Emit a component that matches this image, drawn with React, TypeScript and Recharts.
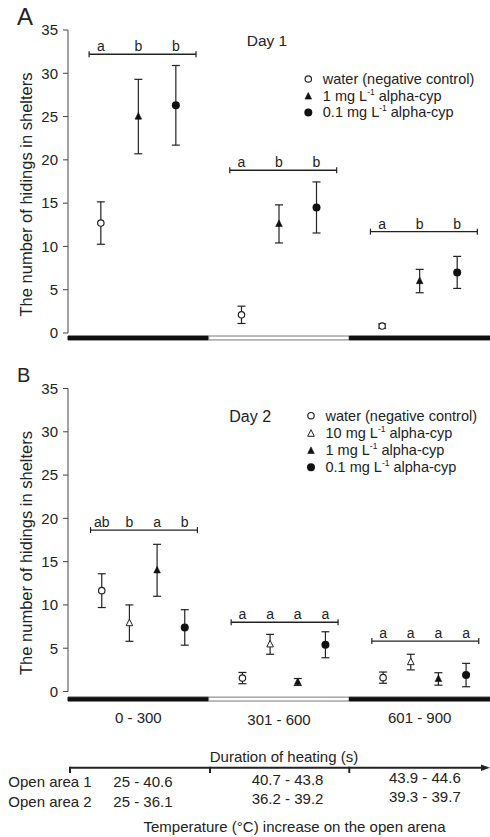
import React from "react";
import {
  ErrorBar,
  ReferenceArea,
  ReferenceLine,
  Scatter,
  ScatterChart,
  XAxis,
  YAxis,
} from "recharts";

const FONT = "'Liberation Sans', Arial, sans-serif";
const INK = "#222";

const GROUPS = ["0 - 300", "301 - 600", "601 - 900"];
const GROUP_SPAN = 300;
const Y_TICKS = [0, 5, 10, 15, 20, 25, 30, 35];

// Day 1: mean and SE per heating period
const d1Water = [12.7, 2.1, 0.8];
const d1WaterSe = [2.45, 1.0, 0.25];
const d1Mg1 = [25.0, 12.6, 6.0];
const d1Mg1Se = [4.3, 2.2, 1.35];
const d1Mg01 = [26.3, 14.5, 7.0];
const d1Mg01Se = [4.6, 2.95, 1.85];
const d1Letters = [
  ["a", "b", "b"],
  ["a", "b", "b"],
  ["a", "b", "b"],
];
const d1Brackets = [32.2, 18.8, 11.7];

// Day 2
const d2Water = [11.65, 1.55, 1.6];
const d2WaterSe = [1.95, 0.65, 0.65];
const d2Mg10 = [7.9, 5.45, 3.4];
const d2Mg10Se = [2.1, 1.15, 0.9];
const d2Mg1 = [14.0, 1.1, 1.45];
const d2Mg1Se = [3.0, 0.4, 0.72];
const d2Mg01 = [7.4, 5.4, 1.9];
const d2Mg01Se = [2.05, 1.5, 1.35];
const d2Letters = [
  ["ab", "b", "a", "b"],
  ["a", "a", "a", "a"],
  ["a", "a", "a", "a"],
];
const d2Brackets = [18.65, 8.0, 5.83];

// temperature table under the chart
const area1Temps = ["25 - 40.6", "40.7 - 43.8", "43.9 - 44.6"];
const area2Temps = ["25 - 36.1", "36.2 - 39.2", "39.3 - 39.7"];

// layout: where each treatment sits inside a 300 s period
const D1_OFFSETS = [70, 150, 230];
const D2_OFFSETS = [72, 131, 190, 249];
const D1_BRACKET = [45, 273];
const D2_BRACKET = [48, 276];

type Kind = "openCircle" | "openTriangle" | "triangle" | "circle";

function Marker({ kind, cx, cy }: { kind: Kind; cx: number; cy: number }) {
  if (kind === "openCircle")
    return <circle cx={cx} cy={cy} r={3.2} fill="#fff" stroke={INK} strokeWidth={1.2} />;
  if (kind === "circle") return <circle cx={cx} cy={cy} r={4} fill="#111" />;
  const pts = `${cx},${cy - 4} ${cx - 3.3},${cy + 2.6} ${cx + 3.3},${cy + 2.6}`;
  return kind === "triangle" ? (
    <polygon points={pts} fill="#111" stroke="#111" strokeWidth={0.6} />
  ) : (
    <polygon points={pts} fill="#fff" stroke={INK} strokeWidth={1} />
  );
}

type Series = { kind: Kind; mean: number[]; se: number[] };

const day1: Series[] = [
  { kind: "openCircle", mean: d1Water, se: d1WaterSe },
  { kind: "triangle", mean: d1Mg1, se: d1Mg1Se },
  { kind: "circle", mean: d1Mg01, se: d1Mg01Se },
];

const day2: Series[] = [
  { kind: "openCircle", mean: d2Water, se: d2WaterSe },
  { kind: "openTriangle", mean: d2Mg10, se: d2Mg10Se },
  { kind: "triangle", mean: d2Mg1, se: d2Mg1Se },
  { kind: "circle", mean: d2Mg01, se: d2Mg01Se },
];

const bracketShape = (p: any) => (
  <g>
    <line x1={p.x1} y1={p.y1} x2={p.x2} y2={p.y2} stroke={INK} strokeWidth={1.3} />
    <line x1={p.x1} y1={p.y1 - 3} x2={p.x1} y2={p.y1 + 3} stroke={INK} strokeWidth={1.2} />
    <line x1={p.x2} y1={p.y2 - 3} x2={p.x2} y2={p.y2 + 3} stroke={INK} strokeWidth={1.2} />
  </g>
);

const yLabel = (props: any) => {
  const vb = props.viewBox;
  const x = vb.x + 23.5;
  const y = vb.y + vb.height / 2 + 13;
  return (
    <text
      x={x}
      y={y}
      transform={`rotate(-90 ${x} ${y})`}
      textAnchor="middle"
      fontSize={16.5}
      fill={INK}
      fontFamily={FONT}
    >
      The number of hidings in shelters
    </text>
  );
};

const xLabel = (props: any) => {
  const vb = props.viewBox;
  return (
    <text
      x={vb.x + vb.width / 2 + 5}
      y={vb.y + 70.5}
      textAnchor="middle"
      fontSize={15}
      fill={INK}
      fontFamily={FONT}
    >
      Duration of heating (s)
    </text>
  );
};

// the middle period label sits a little lower in the original
const tickDy = [0, 2.6, 0];
const groupTick = (p: any) => {
  const i = Math.round((p.payload.value - 150) / GROUP_SPAN);
  return (
    <text
      x={p.x}
      y={p.y + 11 + tickDy[i]}
      textAnchor="middle"
      fontSize={15}
      fill={INK}
      fontFamily={FONT}
    >
      {GROUPS[i]}
    </text>
  );
};

function Panel({
  series,
  offsets,
  letters,
  brackets,
  span,
  height,
  top,
  bottom,
  barTop,
  showX,
}: {
  series: Series[];
  offsets: number[];
  letters: string[][];
  brackets: number[];
  span: number[];
  height: number;
  top: number;
  bottom: number;
  barTop: number;
  showX: boolean;
}) {
  const letterData = GROUPS.flatMap((_, g) =>
    letters[g].map((l, t) => ({ x: g * GROUP_SPAN + offsets[t], y: brackets[g], label: l }))
  );
  return (
    <ScatterChart width={490} height={height} margin={{ top, right: 0, bottom, left: 8 }}>
      <XAxis
        type="number"
        dataKey="x"
        domain={[0, 900]}
        hide={!showX}
        ticks={[150, 450, 750]}
        axisLine={false}
        tickLine={false}
        tickMargin={14}
        height={60}
        tick={groupTick}
        label={showX ? xLabel : undefined}
      />
      <YAxis
        type="number"
        dataKey="y"
        domain={[0, 35]}
        ticks={Y_TICKS}
        width={60}
        tickSize={5}
        tickMargin={5}
        stroke="#444"
        tick={{ fontSize: 15, fill: INK, fontFamily: FONT }}
        label={yLabel}
      />
      {GROUPS.map((g, i) => (
        <ReferenceArea
          key={g}
          x1={i * GROUP_SPAN}
          x2={(i + 1) * GROUP_SPAN}
          y1={-barTop}
          y2={-barTop - 0.45}
          ifOverflow="visible"
          fill={i === 1 ? "#fff" : "#111"}
          fillOpacity={1}
          stroke={i === 1 ? "#777" : "#111"}
          strokeWidth={1}
        />
      ))}
      {GROUPS.map((g, i) => (
        <ReferenceLine
          key={`br-${g}`}
          segment={[
            { x: i * GROUP_SPAN + span[0], y: brackets[i] },
            { x: i * GROUP_SPAN + span[1], y: brackets[i] },
          ]}
          shape={bracketShape}
        />
      ))}
      <Scatter
        data={letterData}
        isAnimationActive={false}
        legendType="none"
        shape={(p: any) => (
          <text
            x={p.cx}
            y={p.cy - 3}
            textAnchor="middle"
            fontSize={14}
            fill={INK}
            fontFamily={FONT}
          >
            {p.payload?.label ?? p.label}
          </text>
        )}
      />
      {series.map((s, t) => (
        <Scatter
          key={s.kind}
          data={GROUPS.map((_, g) => ({
            x: g * GROUP_SPAN + offsets[t],
            y: s.mean[g],
            se: s.se[g],
          }))}
          isAnimationActive={false}
          shape={(p: any) => <Marker kind={s.kind} cx={p.cx} cy={p.cy} />}
        >
          <ErrorBar
            dataKey="se"
            direction="y"
            width={4}
            stroke={INK}
            strokeWidth={1.2}
            isAnimationActive={false}
          />
        </Scatter>
      ))}
    </ScatterChart>
  );
}

type LegendItem = { kind: Kind; pre: string; sup?: string; post?: string };

const legend1: LegendItem[] = [
  { kind: "openCircle", pre: "water (negative control)" },
  { kind: "triangle", pre: "1 mg L", sup: "-1", post: " alpha-cyp" },
  { kind: "circle", pre: "0.1 mg L", sup: "-1", post: " alpha-cyp" },
];

const legend2: LegendItem[] = [
  { kind: "openCircle", pre: "water (negative control)" },
  { kind: "openTriangle", pre: "10 mg L", sup: "-1", post: " alpha-cyp" },
  { kind: "triangle", pre: "1 mg L", sup: "-1", post: " alpha-cyp" },
  { kind: "circle", pre: "0.1 mg L", sup: "-1", post: " alpha-cyp" },
];

function LegendBlock({ items, x, y, step }: { items: LegendItem[]; x: number; y: number; step: number }) {
  return (
    <g>
      {items.map((it, i) => {
        const cy = y + i * step;
        return (
          <g key={i}>
            <Marker kind={it.kind} cx={x} cy={cy + (it.kind.includes("riangle") ? 0.8 : 0)} />
            <text x={x + 14.5} y={cy + 5} fontSize={14.5} fill={INK} fontFamily={FONT}>
              {it.pre}
              {it.sup && (
                <tspan dy={-6} fontSize={8.5}>
                  {it.sup}
                </tspan>
              )}
              {it.post && <tspan dy={6}>{it.post}</tspan>}
            </text>
          </g>
        );
      })}
    </g>
  );
}

export default function App() {
  const colX = [113.3, 251.7, 389];
  const rowShift = [0, -2.3, -4.3];
  return (
    <div
      style={{
        position: "absolute",
        left: 0,
        top: 0,
        width: 490,
        height: 837,
        background: "#fff",
        fontFamily: FONT,
      }}
    >
      <div style={{ position: "absolute", left: 0, top: 0 }}>
        <Panel
          series={day1}
          offsets={D1_OFFSETS}
          letters={d1Letters}
          brackets={d1Brackets}
          span={D1_BRACKET}
          height={345}
          top={30}
          bottom={12}
          barTop={0.35}
          showX={false}
        />
      </div>
      <div style={{ position: "absolute", left: 0, top: 345 }}>
        <Panel
          series={day2}
          offsets={D2_OFFSETS}
          letters={d2Letters}
          brackets={d2Brackets}
          span={D2_BRACKET}
          height={492}
          top={43.5}
          bottom={85.5}
          barTop={0.65}
          showX={true}
        />
      </div>
      <svg
        width={490}
        height={837}
        style={{ position: "absolute", left: 0, top: 0, pointerEvents: "none" }}
        fontFamily={FONT}
      >
        <text x={17} y={25} fontSize={24} fill={INK}>
          A
        </text>
        <text x={17} y={382} fontSize={20} fill={INK}>
          B
        </text>
        <text x={246.7} y={46.2} fontSize={15.5} fill={INK}>
          Day 1
        </text>
        <text x={229.3} y={422.4} fontSize={16} fill={INK}>
          Day 2
        </text>
        <LegendBlock items={legend1} x={308.3} y={79} step={16.7} />
        <LegendBlock items={legend2} x={311} y={415.7} step={17.2} />

        <line x1={70} y1={767.7} x2={484} y2={767.7} stroke={INK} strokeWidth={2} />
        <polygon points="490,767.7 481,764.5 481,770.9" fill={INK} />
        {[70, 210, 349.3].map((x) => (
          <line key={x} x1={x} y1={766.7} x2={x} y2={773} stroke={INK} strokeWidth={2} />
        ))}
        <text x={8.3} y={787} fontSize={15} fill={INK}>
          Open area 1
        </text>
        <text x={8.3} y={807} fontSize={15} fill={INK}>
          Open area 2
        </text>
        {area1Temps.map((t, i) => (
          <text key={t} x={colX[i]} y={787 + rowShift[i]} fontSize={15} fill={INK}>
            {t}
          </text>
        ))}
        {area2Temps.map((t, i) => (
          <text key={t} x={colX[i]} y={806.5 + rowShift[i]} fontSize={15} fill={INK}>
            {t}
          </text>
        ))}
        <text x={294.5} y={832} textAnchor="middle" fontSize={15} fill={INK}>
          Temperature (°C) increase on the open arena
        </text>
      </svg>
    </div>
  );
}
